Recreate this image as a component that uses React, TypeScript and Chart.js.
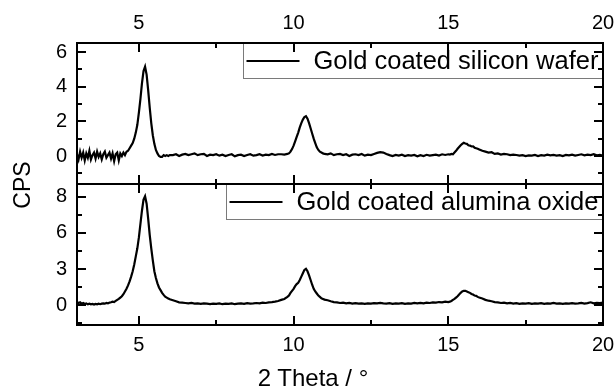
import React, { useEffect, useRef } from "react";
import { Chart, registerables } from "chart.js";

Chart.register(...registerables);

const FONT = 'Arial, "Liberation Sans", sans-serif';

// 2θ positions (degrees)
const TWO_THETA = [
  3, 3.05, 3.1, 3.15, 3.2, 3.25, 3.3, 3.35, 3.4, 3.45,
  3.5, 3.55, 3.6, 3.65, 3.7, 3.75, 3.8, 3.85, 3.9, 3.95,
  4, 4.05, 4.1, 4.15, 4.2, 4.25, 4.3, 4.35, 4.4, 4.45,
  4.5, 4.55, 4.6, 4.65, 4.7, 4.75, 4.8, 4.85, 4.9, 4.95,
  5, 5.05, 5.1, 5.15, 5.2, 5.25, 5.3, 5.35, 5.4, 5.45,
  5.5, 5.55, 5.6, 5.65, 5.7, 5.75, 5.8, 5.85, 5.9, 5.95,
  6,
  6.1, 6.2, 6.3, 6.4, 6.5, 6.6, 6.7, 6.8, 6.9, 7.0,
  7.1, 7.2, 7.3, 7.4, 7.5, 7.6, 7.7, 7.8, 7.9, 8.0,
  8.1, 8.2, 8.3, 8.4, 8.5, 8.6, 8.7, 8.8, 8.9, 9.0,
  9.1, 9.2, 9.3, 9.4, 9.5, 9.6, 9.7, 9.8,
  9.85, 9.9, 9.95, 10, 10.05, 10.1, 10.15, 10.2, 10.25, 10.3,
  10.35, 10.4, 10.45, 10.5, 10.55, 10.6, 10.65, 10.7, 10.75, 10.8,
  10.85, 10.9, 10.95, 11,
  11.1, 11.2, 11.3, 11.4, 11.5, 11.6, 11.7, 11.8, 11.9, 12.0,
  12.1, 12.2, 12.3, 12.4, 12.5, 12.6, 12.7, 12.8, 12.9, 13.0,
  13.1, 13.2, 13.3, 13.4, 13.5, 13.6, 13.7, 13.8, 13.9, 14.0,
  14.1, 14.2, 14.3, 14.4, 14.5, 14.6, 14.7, 14.8, 14.9, 15.0,
  15.05, 15.1, 15.15, 15.2, 15.25, 15.3, 15.35, 15.4, 15.45, 15.5,
  15.55, 15.6, 15.65, 15.7, 15.75, 15.8, 15.85, 15.9, 15.95, 16,
  16.1, 16.2, 16.3, 16.4, 16.5, 16.6, 16.7, 16.8, 16.9, 17.0,
  17.1, 17.2, 17.3, 17.4, 17.5, 17.6, 17.7, 17.8, 17.9, 18.0,
  18.1, 18.2, 18.3, 18.4, 18.5, 18.6, 18.7, 18.8, 18.9, 19.0,
  19.1, 19.2, 19.3, 19.4, 19.5, 19.6, 19.7, 19.8, 19.9, 20.0,
];

// CPS, gold coated silicon wafer (top panel)
const SILICON_WAFER = [
  0.1, -0.2, 0.25, -0.1, 0.2, -0.25, 0.15, -0.1, 0.3, -0.2,
  0.05, 0.2, -0.15, 0.25, -0.05, 0.15, -0.2, 0.1, 0.25, -0.1,
  0.05, 0.2, -0.15, 0.15, -0.3, 0.1, 0.2, -0.25, 0.15, 0.0,
  0.2, 0.05, 0.25, 0.3, 0.45, 0.6, 0.75, 1.0, 1.35, 1.8,
  2.5, 3.3, 4.2, 4.9, 5.15, 4.7, 3.8, 2.8, 1.9, 1.2,
  0.7, 0.35, 0.15, 0.0, -0.05, -0.05, 0.05, 0.0, 0.05, 0.0,
  0.05,
  0.05, 0.1, 0.0, 0.08, 0.12, 0.05, 0.1, 0.15, 0.05, 0.1,
  0.12, 0.0, 0.08, 0.05, 0.1, 0.02, 0.08, 0.0, 0.06, 0.1,
  -0.02, 0.05, 0.08, 0.0, 0.06, 0.1, 0.02, 0.05, 0.1, 0.03,
  0.08, 0.05, 0.12, 0.06, 0.1, 0.1, 0.08, 0.12,
  0.15, 0.25, 0.4, 0.6, 0.85, 1.1, 1.35, 1.65, 1.9, 2.1,
  2.25, 2.3, 2.15, 1.9, 1.6, 1.3, 1.0, 0.75, 0.5, 0.35,
  0.25, 0.2, 0.15, 0.12,
  0.1, 0.15, 0.05, 0.1, 0.12, 0.05, 0.1, 0.0, 0.08, 0.1,
  0.05, 0.12, 0.02, 0.08, 0.05, 0.12, 0.18, 0.22, 0.2, 0.12,
  0.05, 0.0, 0.06, 0.02, 0.08, 0.0, 0.05, 0.02, 0.06, -0.02,
  0.05, 0.0, 0.07, 0.02, 0.05, 0.08, 0.03, 0.1, 0.06, 0.1,
  0.08, 0.12, 0.1, 0.2, 0.3, 0.42, 0.52, 0.62, 0.7, 0.76,
  0.72, 0.7, 0.62, 0.6, 0.55, 0.56, 0.48, 0.45, 0.42, 0.38,
  0.3, 0.25, 0.2, 0.22, 0.12, 0.15, 0.08, 0.12, 0.1, 0.05,
  0.08, 0.06, 0.02, 0.05, 0.0, 0.04, 0.02, 0.06, 0.0, 0.05,
  0.02, 0.08, 0.04, 0.06, 0.02, 0.05, 0.0, 0.06, 0.04, 0.08,
  0.02, 0.06, 0.1, 0.04, 0.08, 0.05, 0.1, 0.04, 0.06, 0.02,
];

// CPS, gold coated alumina oxide (bottom panel)
const ALUMINA_OXIDE = [
  0.2, 0.15, 0.2, 0.1, 0.15, 0.08, 0.12, 0.05, 0.1, 0.05,
  0.08, 0.03, 0.08, 0.05, 0.1, 0.06, 0.1, 0.12, 0.1, 0.15,
  0.12, 0.18, 0.2, 0.25, 0.22, 0.3, 0.38, 0.45, 0.55, 0.65,
  0.8, 1.0, 1.2, 1.45, 1.75, 2.1, 2.5, 3.0, 3.6, 4.2,
  5.0, 6.0, 7.0, 7.8, 8.05, 7.5, 6.4, 5.2, 4.2, 3.3,
  2.5, 2.0, 1.6, 1.3, 1.1, 0.9, 0.75, 0.62, 0.55, 0.48,
  0.42,
  0.35, 0.28, 0.2, 0.18, 0.15, 0.12, 0.15, 0.1, 0.12, 0.08,
  0.12, 0.1, 0.06, 0.1, 0.08, 0.12, 0.06, 0.1, 0.08, 0.12,
  0.06, 0.1, 0.12, 0.08, 0.14, 0.1, 0.12, 0.15, 0.12, 0.18,
  0.15, 0.2, 0.22, 0.25, 0.3, 0.38, 0.45, 0.6,
  0.7, 0.9, 1.05, 1.2, 1.4, 1.55, 1.65, 1.85, 2.1, 2.35,
  2.6, 2.68, 2.5, 2.2, 1.85, 1.5, 1.2, 1.0, 0.85, 0.7,
  0.6, 0.5, 0.45, 0.4,
  0.35, 0.28, 0.22, 0.2, 0.15, 0.18, 0.12, 0.15, 0.1, 0.14,
  0.1, 0.12, 0.08, 0.12, 0.1, 0.14, 0.12, 0.16, 0.12, 0.1,
  0.14, 0.08, 0.12, 0.1, 0.14, 0.08, 0.12, 0.1, 0.15, 0.12,
  0.16, 0.12, 0.18, 0.15, 0.2, 0.18, 0.22, 0.2, 0.25, 0.22,
  0.25, 0.3, 0.38, 0.45, 0.55, 0.65, 0.78, 0.9, 1.0, 1.05,
  1.05, 1.0, 0.95, 0.9, 0.82, 0.78, 0.7, 0.68, 0.6, 0.55,
  0.48, 0.38, 0.32, 0.28, 0.22, 0.2, 0.15, 0.18, 0.12, 0.15,
  0.1, 0.14, 0.08, 0.12, 0.1, 0.14, 0.08, 0.12, 0.1, 0.14,
  0.08, 0.12, 0.1, 0.15, 0.1, 0.12, 0.08, 0.12, 0.1, 0.14,
  0.1, 0.12, 0.16, 0.1, 0.14, 0.2, 0.12, 0.16, 0.14, 0.18,
];

const X_MAJOR = [5, 10, 15, 20];
const X_MINOR = [7.5, 12.5, 17.5];
const TOP_Y_MAJOR = [0, 2, 4, 6];
const TOP_Y_MINOR = [-1, 1, 3, 5];
const BOT_Y_MAJOR = [0, 8 / 3, 16 / 3, 8];
const BOT_Y_LABELS = ["0", "3", "6", "8"];
const BOT_Y_MINOR = [-4 / 3, 4 / 3, 4, 20 / 3];

const SERIES_TOP = "Gold coated silicon wafer";
const SERIES_BOT = "Gold coated alumina oxide";

function framePlugin(yMajor: number[], yMinor: number[]) {
  return {
    id: "frameTicks",
    afterDatasetsDraw(chart: any) {
      const { ctx, chartArea: a, scales } = chart;
      const xs = scales.x;
      const ys = scales.y;
      ctx.save();
      // legend box
      const label = chart.data.datasets[0].label;
      ctx.font = `25.5px ${FONT}`;
      const tw = ctx.measureText(label).width;
      const boxW = tw + 75;
      const boxL = Math.round(a.right - boxW) + 0.5;
      const boxT = a.top + 0.5;
      const boxH = 35;
      ctx.fillStyle = "#fff";
      ctx.fillRect(boxL, boxT, a.right - boxL, boxH);
      ctx.strokeStyle = "#7a7a7a";
      ctx.lineWidth = 1;
      ctx.strokeRect(boxL, boxT, a.right - boxL, boxH);
      const cy = boxT + boxH / 2;
      ctx.strokeStyle = "#000";
      ctx.lineWidth = 2.2;
      ctx.beginPath();
      ctx.moveTo(boxL + 3, cy);
      ctx.lineTo(boxL + 56, cy);
      ctx.stroke();
      ctx.fillStyle = "#000";
      ctx.textBaseline = "middle";
      ctx.textAlign = "left";
      ctx.fillText(label, boxL + 70, cy + 1);

      // frame
      ctx.strokeStyle = "#000";
      ctx.lineWidth = 2;
      ctx.strokeRect(a.left, a.top, a.right - a.left, a.bottom - a.top);
      const tick = (vals: number[], len: number, vertical: boolean) => {
        ctx.beginPath();
        for (const v of vals) {
          if (vertical) {
            const px = Math.round(xs.getPixelForValue(v));
            ctx.moveTo(px, a.top);
            ctx.lineTo(px, a.top + len);
            ctx.moveTo(px, a.bottom);
            ctx.lineTo(px, a.bottom - len);
          } else {
            const py = Math.round(ys.getPixelForValue(v));
            ctx.moveTo(a.left, py);
            ctx.lineTo(a.left + len, py);
            ctx.moveTo(a.right, py);
            ctx.lineTo(a.right - len, py);
          }
        }
        ctx.stroke();
      };
      tick(X_MAJOR, 9, true);
      tick(X_MINOR, 5, true);
      tick(yMajor, 9, false);
      tick(yMinor, 5, false);
      ctx.restore();
    },
  };
}

function makePoints(ys: number[]) {
  return TWO_THETA.map((x, i) => ({ x, y: ys[i] }));
}

function fixX(h: number) {
  return (s: any) => {
    s.height = h;
    s.paddingLeft = 0;
    s.paddingRight = 0;
    s.paddingTop = 0;
    s.paddingBottom = 0;
  };
}
function fixY(w: number) {
  return (s: any) => {
    s.width = w;
    s.paddingLeft = 0;
    s.paddingRight = 0;
    s.paddingTop = 0;
    s.paddingBottom = 0;
  };
}

export default function App() {
  const topRef = useRef<HTMLCanvasElement>(null);
  const botRef = useRef<HTMLCanvasElement>(null);

  useEffect(() => {
    const tickFont = { family: FONT, size: 20 };
    const common = (label: string, data: number[]) => ({
      label,
      data: makePoints(data),
      borderColor: "#000",
      borderWidth: 2.2,
      pointRadius: 0,
      tension: 0,
      fill: false,
    });
    const topChart = new Chart(topRef.current!, {
      type: "line",
      data: { datasets: [common(SERIES_TOP, SILICON_WAFER)] },
      options: {
        responsive: false,
        animation: false,
        events: [],
        layout: { padding: { left: 0, right: 13, top: 0, bottom: 2 } },
        plugins: { legend: { display: false }, tooltip: { enabled: false } },
        scales: {
          x: {
            type: "linear",
            position: "top",
            min: 3,
            max: 20,
            afterBuildTicks: (s: any) => {
              s.ticks = X_MAJOR.map((v) => ({ value: v }));
            },
            afterFit: fixX(43),
            grid: { display: false, drawTicks: false },
            border: { display: false },
            ticks: { padding: 8, font: tickFont, color: "#000", maxRotation: 0, autoSkip: false },
          },
          y: {
            type: "linear",
            min: -1.615,
            max: 6.52,
            afterBuildTicks: (s: any) => {
              s.ticks = TOP_Y_MAJOR.map((v) => ({ value: v }));
            },
            afterFit: fixY(77),
            grid: { display: false, drawTicks: false },
            border: { display: false },
            ticks: { padding: 10, font: tickFont, color: "#000" },
          },
        },
      },
      plugins: [framePlugin(TOP_Y_MAJOR, TOP_Y_MINOR)],
    } as any);

    const botChart = new Chart(botRef.current!, {
      type: "line",
      data: { datasets: [common(SERIES_BOT, ALUMINA_OXIDE)] },
      options: {
        responsive: false,
        animation: false,
        events: [],
        layout: { padding: { left: 0, right: 13, top: 0, bottom: 0 } },
        plugins: { legend: { display: false }, tooltip: { enabled: false } },
        scales: {
          x: {
            type: "linear",
            position: "bottom",
            min: 3,
            max: 20,
            afterBuildTicks: (s: any) => {
              s.ticks = X_MAJOR.map((v) => ({ value: v }));
            },
            afterFit: fixX(67),
            grid: { display: false, drawTicks: false },
            border: { display: false },
            ticks: { padding: 8, font: tickFont, color: "#000", maxRotation: 0, autoSkip: false },
          },
          y: {
            type: "linear",
            min: -1.48,
            max: 8.96,
            afterBuildTicks: (s: any) => {
              s.ticks = BOT_Y_MAJOR.map((v) => ({ value: v }));
            },
            afterFit: fixY(77),
            grid: { display: false, drawTicks: false },
            border: { display: false },
            ticks: {
              padding: 10,
              font: tickFont,
              color: "#000",
              callback: (_v: any, i: number) => BOT_Y_LABELS[i],
            },
          },
        },
      },
      plugins: [framePlugin(BOT_Y_MAJOR, BOT_Y_MINOR)],
    } as any);

    return () => {
      topChart.destroy();
      botChart.destroy();
    };
  }, []);

  return (
    <div
      style={{
        position: "fixed",
        left: 0,
        top: 0,
        width: 616,
        height: 392,
        background: "#fff",
        fontFamily: FONT,
        color: "#000",
        overflow: "hidden",
      }}
    >
      <canvas ref={topRef} width={616} height={186} style={{ position: "absolute", left: 0, top: 0 }} />
      <canvas ref={botRef} width={616} height={208} style={{ position: "absolute", left: 0, top: 184 }} />
      <div
        style={{
          position: "absolute",
          left: 0,
          top: 364,
          width: 626,
          height: 28,
          lineHeight: "28px",
          fontSize: 24,
          textAlign: "center",
          whiteSpace: "nowrap",
        }}
      >
        2 Theta / °
      </div>
      <div
        style={{
          position: "absolute",
          left: -28,
          top: 171,
          width: 100,
          height: 28,
          lineHeight: "28px",
          fontSize: 23,
          textAlign: "center",
          transform: "rotate(-90deg)",
          whiteSpace: "nowrap",
        }}
      >
        CPS
      </div>
    </div>
  );
}
